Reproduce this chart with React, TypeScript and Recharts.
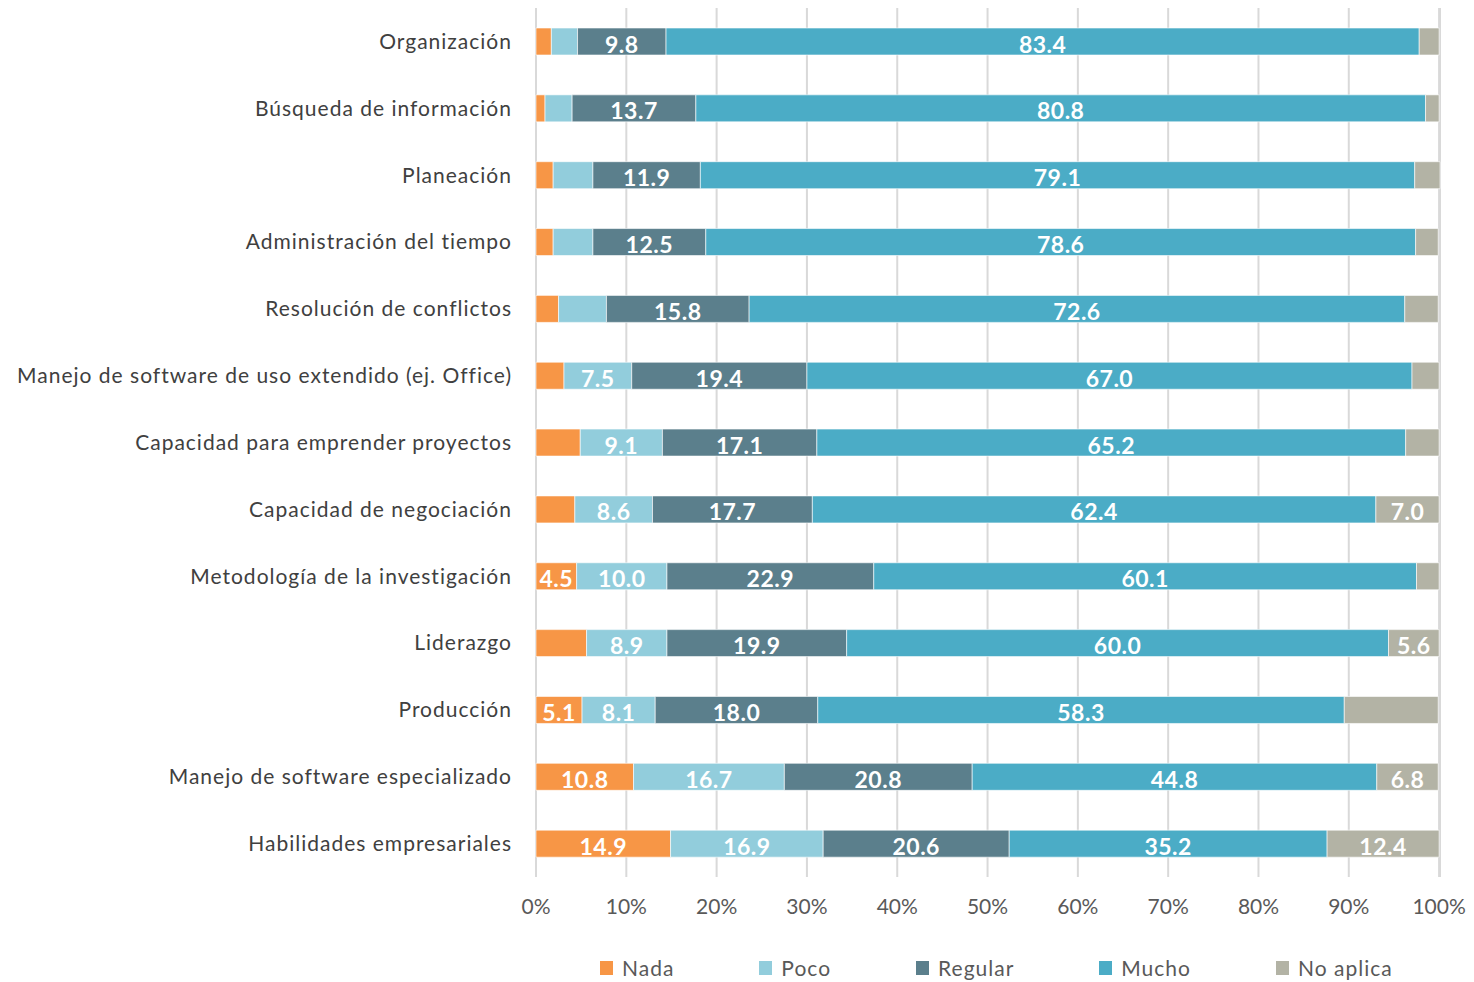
import { BarChart, Bar, XAxis, YAxis, CartesianGrid, Legend, LabelList } from 'recharts';

const categories = [
  'Organización',
  'Búsqueda de información',
  'Planeación',
  'Administración del tiempo',
  'Resolución de conflictos',
  'Manejo de software de uso extendido (ej. Office)',
  'Capacidad para emprender proyectos',
  'Capacidad de negociación',
  'Metodología de la investigación',
  'Liderazgo',
  'Producción',
  'Manejo de software especializado',
  'Habilidades empresariales',
];

const nada = [1.7, 1.0, 1.9, 1.9, 2.5, 3.1, 4.9, 4.3, 4.5, 5.6, 5.1, 10.8, 14.9];
const poco = [2.9, 3.0, 4.4, 4.4, 5.3, 7.5, 9.1, 8.6, 10.0, 8.9, 8.1, 16.7, 16.9];
const regular = [9.8, 13.7, 11.9, 12.5, 15.8, 19.4, 17.1, 17.7, 22.9, 19.9, 18.0, 20.8, 20.6];
const mucho = [83.4, 80.8, 79.1, 78.6, 72.6, 67.0, 65.2, 62.4, 60.1, 60.0, 58.3, 44.8, 35.2];
const noAplica = [2.2, 1.5, 2.8, 2.5, 3.7, 3.0, 3.7, 7.0, 2.5, 5.6, 10.4, 6.8, 12.4];

// which data labels the original chart kept
const showNada = [false, false, false, false, false, false, false, false, true, false, true, true, true];
const showPoco = [false, false, false, false, false, true, true, true, true, true, true, true, true];
const showRegular = categories.map(() => true);
const showMucho = categories.map(() => true);
const showNoAplica = [false, false, false, false, false, false, false, true, false, true, false, true, true];

const xTicks = [0, 10, 20, 30, 40, 50, 60, 70, 80, 90, 100];

const data = categories.map((name, i) => ({
  name,
  nada: nada[i],
  poco: poco[i],
  regular: regular[i],
  mucho: mucho[i],
  noAplica: noAplica[i],
}));

const series = [
  { key: 'nada', label: 'Nada', color: '#F79646', show: showNada },
  { key: 'poco', label: 'Poco', color: '#92CDDC', show: showPoco },
  { key: 'regular', label: 'Regular', color: '#5B7F8C', show: showRegular },
  { key: 'mucho', label: 'Mucho', color: '#4BACC6', show: showMucho },
  { key: 'noAplica', label: 'No aplica', color: '#B3B3A5', show: showNoAplica },
];

const FONT = 'Lato, "Open Sans", sans-serif';

function makeLabel(show: boolean[]) {
  return (props: any) => {
    const { x, y, width, height, value, index } = props;
    if (!show[index]) return null;
    return (
      <text
        x={x + width / 2}
        y={y + height / 2 + 2}
        textAnchor="middle"
        dominantBaseline="central"
        fill="#ffffff"
        fontFamily={FONT}
        fontWeight={700}
        fontSize={23}
        letterSpacing={0.5}
      >
        {Number(value).toFixed(1)}
      </text>
    );
  };
}

function LegendBox() {
  return (
    <div style={{ display: 'flex', gap: 85, marginLeft: 600, fontFamily: FONT, fontSize: 21, letterSpacing: 1, color: '#595959' }}>
      {series.map((s) => (
        <div key={s.key} style={{ display: 'flex', alignItems: 'center' }}>
          <span style={{ display: 'inline-block', width: 13, height: 14, background: s.color, marginRight: 9 }} />
          <span>{s.label}</span>
        </div>
      ))}
    </div>
  );
}

export default function App() {
  return (
    <div style={{ position: 'absolute', left: 0, top: 0, width: 1474, height: 982, background: '#fff' }}>
      <BarChart
        width={1474}
        height={982}
        data={data}
        layout="vertical"
        margin={{ top: 8, right: 34, bottom: 20, left: 0 }}
        barSize={27}
      >
        <CartesianGrid horizontal={false} stroke="#D9D9D9" strokeWidth={2} />
        <XAxis
          type="number"
          domain={[0, 100]}
          ticks={xTicks}
          tickFormatter={(v) => `${v}%`}
          axisLine={false}
          tickLine={false}
          tickSize={0}
          tickMargin={22}
          height={60}
          tick={{ fontFamily: FONT, fontSize: 21, fill: '#595959' }}
          interval={0}
        />
        <YAxis
          type="category"
          dataKey="name"
          width={536}
          axisLine={false}
          tickLine={false}
          tickSize={0}
          tickMargin={24}
          interval={0}
          tick={{ fontFamily: FONT, fontSize: 21, fill: '#404040', letterSpacing: 1 }}
        />
        <Legend
          verticalAlign="bottom"
          align="left"
          wrapperStyle={{ position: 'absolute', left: 0, top: 955, width: 1474 }}
          content={() => <LegendBox />}
        />
        {series.map((s) => (
          <Bar
            key={s.key}
            dataKey={s.key}
            name={s.label}
            stackId="a"
            fill={s.color}
            stroke="#ffffff"
            strokeOpacity={0.6}
            strokeWidth={1}
            isAnimationActive={false}
          >
            <LabelList dataKey={s.key} content={makeLabel(s.show)} />
          </Bar>
        ))}
      </BarChart>
    </div>
  );
}
